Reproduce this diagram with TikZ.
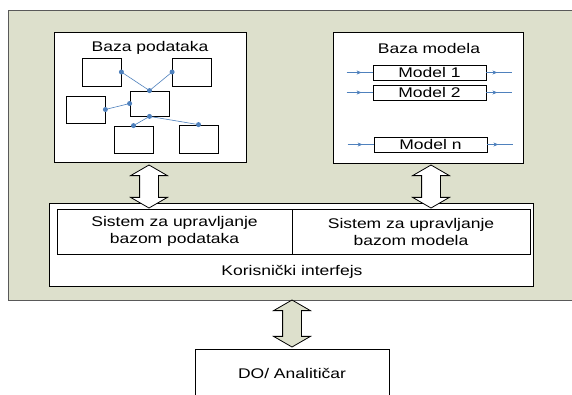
\documentclass[tikz,border=0pt]{standalone}
\usepackage{fontspec}
\setmainfont[FakeStretch=1.25]{Liberation Sans}
\usepackage{tikz}
\usetikzlibrary{arrows.meta,shapes.arrows}
\usepackage{xcolor}
\definecolor{bgreen}{RGB}{221,224,204}
\definecolor{lblue}{RGB}{79,129,189}

\begin{document}
\begin{tikzpicture}[x=1pt, y=-1pt, every node/.style={font=\fontsize{14}{17}\selectfont, inner sep=0pt},
  box/.style={draw, fill=white, line width=0.8pt},
  dot/.style={circle, fill=lblue, minimum size=5pt},
  link/.style={lblue, line width=0.6pt},
  dbl/.style={double arrow, draw, line width=0.8pt, rotate=90, inner sep=9pt, double arrow head extend=9pt, double arrow tip angle=120}]
\useasboundingbox (0,0) rectangle (572,394);
\fill[white] (0,0) rectangle (572,394);
\draw[fill=bgreen, draw=gray!70!black, line width=1pt] (8,10) rectangle (590,300);
% baza podataka
\node[box, minimum width=192, minimum height=130] (dbbox) at (150,97) {};
\node (dbtitle) at (150,48) {Baza podataka};
\node[box, minimum width=39, minimum height=28] (ta) at (101.5,72) {};
\node[box, minimum width=39, minimum height=28] (tb) at (192,72) {};
\node[box, minimum width=39, minimum height=25] (tc) at (149.5,103.5) {};
\node[box, minimum width=39, minimum height=27] (td) at (85.5,109.5) {};
\node[box, minimum width=39, minimum height=27] (te) at (133.5,139.5) {};
\node[box, minimum width=39, minimum height=28] (tf) at (198.5,139) {};
\draw[link] (ta.east)--(tc.north);
\draw[link] (tb.west)--(tc.north);
\draw[link] (tc.west)--(td.east);
\draw[link] (tc.south)--(te.north);
\draw[link] (tc.south)--(tf.north);
\foreach \p in {ta.east, tb.west, tc.north, tc.west, td.east, tc.south, te.north, tf.north}
  \node[dot] at (\p) {};
% baza modela
\node[box, minimum width=190, minimum height=131] (mbbox) at (428,97.5) {};
\node (mbtitle) at (429,48) {Baza modela};
\node[box, minimum width=113, minimum height=15] (m1) at (429.5,72.5) {Model 1};
\node[box, minimum width=113, minimum height=15] (m2) at (429.5,92.5) {Model 2};
\node[box, minimum width=113, minimum height=15] (mn) at (430.5,144.5) {Model n};
\foreach \m in {m1,m2,mn} {
  \draw[link, -{Stealth[length=5pt,width=4pt]}] ([xshift=-26pt]\m.west) -- ([xshift=-11pt]\m.west);
  \draw[link] ([xshift=-12pt]\m.west) -- (\m.west);
  \draw[link, -{Stealth[length=5pt,width=4pt]}] (\m.east) -- ([xshift=11pt]\m.east);
  \draw[link] ([xshift=10pt]\m.east) -- ([xshift=26pt]\m.east);
}
% korisnicki interfejs
\node[box, minimum width=484, minimum height=83] (ui) at (291,244.5) {};
\node[box, minimum width=235, minimum height=45, align=center] (sdb) at (174.5,231.5) {Sistem za upravljanje\\bazom podataka};
\node[box, minimum width=238, minimum height=45, align=center] (smb) at (411,231.5) {Sistem za upravljanje\\bazom modela};
\node (uilabel) at (292,272) {Korisnički interfejs};
\node[dbl, fill=white, minimum height=43] (arrdb) at (149,186.5) {};
\node[dbl, fill=white, minimum height=43] (arrmb) at (431,186.5) {};
% korisnik
\node[dbl, fill=bgreen, minimum height=47] (arrdo) at (292,323.5) {};
\node[box, minimum width=194, minimum height=48] (dobox) at (292,373) {DO/ Analitičar};
\end{tikzpicture}
\end{document}
